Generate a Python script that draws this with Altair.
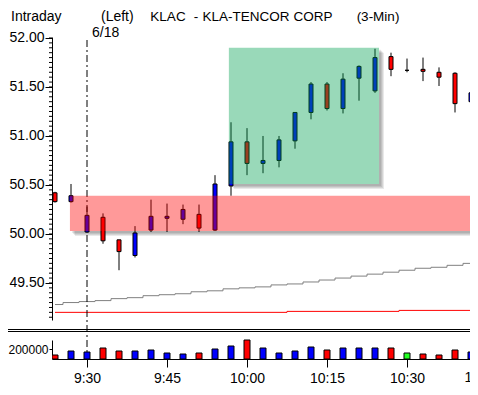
import altair as alt
import pandas as pd

# ---------------- data ----------------
bar_times = ["9:24", "9:27", "9:30", "9:33", "9:36", "9:39", "9:42", "9:45", "9:48", "9:51", "9:54", "9:57",
             "10:00", "10:03", "10:06", "10:09", "10:12", "10:15", "10:18", "10:21", "10:24", "10:27",
             "10:30", "10:33", "10:36", "10:39", "10:42"]
opens = [50.42, 50.33, 50.02, 50.17, 49.94, 49.78, 50.04, 50.16, 50.15, 50.20, 50.04, 50.49,
         50.94, 50.72, 50.75, 50.95, 51.24, 51.53, 51.28, 51.59, 51.46, 51.81,
         51.67, 51.68, 51.65, 51.64, 51.35]
highs = [50.43, 50.51, 50.28, 50.21, 49.94, 50.08, 50.35, 50.31, 50.30, 50.30, 50.60, 51.14,
         51.08, 51.00, 51.00, 51.24, 51.55, 51.55, 51.64, 51.72, 51.89, 51.85,
         51.79, 51.80, 51.70, 51.65, 51.44]
lows = [50.32, 50.32, 50.01, 49.90, 49.63, 49.76, 50.02, 50.02, 50.10, 50.02, 50.03, 50.39,
        50.60, 50.62, 50.68, 50.87, 51.17, 51.26, 51.23, 51.36, 51.44, 51.61,
        51.65, 51.56, 51.51, 51.24, 51.35]
closes = [50.33, 50.39, 50.19, 49.93, 49.82, 50.01, 50.18, 50.18, 50.25, 50.06, 50.51, 50.94,
          50.72, 50.75, 50.96, 51.24, 51.53, 51.28, 51.58, 51.71, 51.80, 51.68,
          51.67, 51.66, 51.60, 51.33, 51.44]
volumes = [80000, 160000, 140000, 220000, 160000, 160000, 180000, 120000, 100000, 120000, 200000, 260000,
           380000, 220000, 120000, 160000, 240000, 180000, 220000, 220000, 220000, 220000,
           120000, 100000, 80000, 180000, 140000]
avg_gray = [49.28, 49.30, 49.31, 49.32, 49.34, 49.35, 49.37, 49.38, 49.39, 49.41, 49.42, 49.44,
            49.45, 49.46, 49.48, 49.49, 49.51, 49.53, 49.55, 49.57, 49.59, 49.61,
            49.63, 49.65, 49.66, 49.68, 49.70]
avg_red = [49.20, 49.20, 49.20, 49.20, 49.20, 49.20, 49.20, 49.20, 49.20, 49.20, 49.20, 49.20,
           49.20, 49.20, 49.20, 49.21, 49.21, 49.21, 49.21, 49.21, 49.21, 49.21,
           49.22, 49.22, 49.22, 49.22, 49.22]

band_names = ["green", "red"]
band_start = ["9:56:36", "9:26:48"]
band_end = ["10:24:45", "10:44:00"]
band_top = [51.90, 50.39]
band_bottom = [50.51, 50.03]

time_tick_labels = ["9:30", "9:45", "10:00", "10:15", "10:30"]
cut_tick_label = "10:45"
price_tick_labels = [49.5, 50.0, 50.5, 51.0, 51.5, 52.0]
volume_tick_labels = [200000]
date_sep_time = "9:30"
date_text = "6/18"
header_words = ["Intraday", "(Left)", "KLAC", "-", "KLA-TENCOR", "CORP", "(3-Min)"]


def mins(s):
    p = s.split(":")
    return int(p[0]) * 60 + int(p[1]) + (float(p[2]) if len(p) > 2 else 0.0) / 60.0


X_DOMAIN = [mins("9:23:26.25"), mins("10:41:48.75")]
W, H = 418, 322
P_DOMAIN = [49.122, 52.01]
P_RANGE = [283, 0]

LBL_FONT = "Liberation Sans, Arial, sans-serif"
HDR_FONT = "Liberation Sans, Arial, sans-serif"
LBL_SIZE = 14

df = pd.DataFrame({"t": [mins(s) for s in bar_times], "open": opens, "high": highs,
                   "low": lows, "close": closes, "vol": volumes,
                   "gray": avg_gray, "red": avg_red})
df["dir"] = ["up" if c > o else ("down" if c < o else "flat") for o, c in zip(opens, closes)]
df["bodycol"] = df["dir"].map({"up": "#0000ff", "down": "#ff0000", "flat": "#000000"})
df["volcol"] = df["dir"].map({"up": "#0000ff", "down": "#ff0000", "flat": "#22ff22"})

bands = pd.DataFrame({"name": band_names, "t0": [mins(s) for s in band_start],
                      "t1": [mins(s) for s in band_end], "top": band_top, "bot": band_bottom})
bands["col"] = bands["name"].map({"green": "#00a050", "red": "#ff0000"})

minor = pd.DataFrame({"v": [round(49.15 + 0.05 * i, 2) for i in range(58)]})

label_expr = ("floor(datum.value/60) + ':' + (datum.value%60 < 10 ? '0' : '') + (datum.value%60)")
xaxis = alt.Axis(values=[mins(s) for s in time_tick_labels], labelExpr=label_expr, grid=False,
                 tickSize=8, labelPadding=4, domainColor="black", tickColor="black",
                 labelColor="black", labelFont=LBL_FONT, labelFontSize=LBL_SIZE, title=None)
xscale = alt.Scale(domain=X_DOMAIN, nice=False, zero=False, padding=0)


def X(field="t"):
    return alt.X(f"{field}:Q", scale=xscale, axis=xaxis, title=None)


yscale = alt.Scale(domain=P_DOMAIN, range=P_RANGE, nice=False, zero=False, padding=0)
yaxis = alt.Axis(values=price_tick_labels, format=".2f", grid=False, tickSize=7, labelPadding=1,
                 domainColor="black", tickColor="black", labelColor="black",
                 labelFont=LBL_FONT, labelFontSize=LBL_SIZE, title=None)


def Y(field):
    return alt.Y(f"{field}:Q", scale=yscale, axis=yaxis, title=None)


layers = []
# soft shadows of the two highlight boxes
for d in [2, 3, 4, 5]:
    layers.append(alt.Chart(bands).mark_rect(color="black", opacity=0.085, xOffset=d, x2Offset=d,
                                             yOffset=d, y2Offset=d, clip=False)
                  .encode(x=X("t0"), x2="t1", y=Y("top"), y2="bot"))
layers.append(alt.Chart(bands).mark_rect(color="white", clip=False)
              .encode(x=X("t0"), x2="t1", y=Y("top"), y2="bot"))
# minor ticks on price axis
layers.append(alt.Chart(minor).mark_rule(color="black", clip=False)
              .encode(y=Y("v"), x=alt.value(-3), x2=alt.value(0)))
# averages
layers.append(alt.Chart(df).mark_line(color="#808080", strokeWidth=1, interpolate="step", clip=True)
              .encode(x=X(), y=Y("gray")))
layers.append(alt.Chart(df).mark_line(color="#ff0000", strokeWidth=1, interpolate="step", clip=True)
              .encode(x=X(), y=Y("red")))
# date separator
sep = pd.DataFrame({"t": [mins(date_sep_time)], "txt": [date_text]})
layers.append(alt.Chart(sep).mark_rule(color="black", strokeDash=[7, 3, 2, 3], clip=False)
              .encode(x=X(), y=alt.value(3), y2=alt.value(H)))
layers.append(alt.Chart(sep).mark_text(align="left", baseline="alphabetic", dx=5, font=LBL_FONT,
                                       fontSize=LBL_SIZE, color="black", clip=False)
              .encode(x=X(), y=alt.value(-0.3), text="txt:N"))
# candles
layers.append(alt.Chart(df).mark_rule(color="black", clip=True)
              .encode(x=X(), y=Y("low"), y2="high"))
layers.append(alt.Chart(df).mark_bar(size=4, stroke="black", strokeWidth=1, clip=True)
              .encode(x=X(), y=Y("open"), y2="close", fill=alt.Fill("bodycol:N", scale=None)))
# translucent highlight boxes
layers.append(alt.Chart(bands).mark_rect(opacity=0.4, clip=False)
              .encode(x=X("t0"), x2="t1", y=Y("top"), y2="bot", fill=alt.Fill("col:N", scale=None)))
# panel separator (double line)
for yy in [292.5, 294.5]:
    layers.append(alt.Chart(sep).mark_rule(color="black", strokeWidth=1, clip=False)
                  .encode(x=alt.value(-44), x2=alt.value(430), y=alt.value(yy)))
# header words, each at its place in the reference
header_pos = [(-41, "left", 14), (49, "left", 14), (116, "center", 13.5), (144, "center", 13.5),
              (194, "center", 13.5), (261, "center", 13.5), (326, "center", 13.5)]
for txt, (xx, al, fs) in zip(header_words, header_pos):
    layers.append(alt.Chart(pd.DataFrame({"s": [txt]})).mark_text(
        align=al, baseline="alphabetic", font=HDR_FONT, fontSize=fs, color="black", clip=False)
        .encode(x=alt.value(xx), y=alt.value(-16.2), text="s:N"))
# cut-off time label at the right edge (only its first digit shows, as in the reference)
cut = pd.DataFrame({"t": [mins(cut_tick_label)], "s": [cut_tick_label]})
layers.append(alt.Chart(cut).mark_text(align="center", baseline="top", dx=-5, font=LBL_FONT,
                                       fontSize=LBL_SIZE, color="black", clip=False)
              .encode(x=X(), y=alt.value(H + 8 + 4), text="s:N"))

price = alt.layer(*layers)

vol = alt.Chart(df).mark_bar(size=6, stroke="black", strokeWidth=1, clip=True).encode(
    x=X(),
    y=alt.Y("vol:Q", scale=alt.Scale(domain=[0, 380000], range=[H, H - 19], nice=False, zero=True,
                                     padding=0),
            axis=alt.Axis(orient="left", values=volume_tick_labels, format="d", grid=False, tickSize=3,
                          labelPadding=1, domainColor="black", tickColor="black", labelColor="black",
                          labelFont=LBL_FONT, labelFontSize=12, title=None),
            title=None),
    fill=alt.Fill("volcol:N", scale=None),
)

chart = alt.layer(price, vol).resolve_scale(y="independent").properties(
    width=W, height=H,
    autosize=alt.AutoSizeParams(type="none"),
    padding={"left": 44, "top": 29, "right": 0, "bottom": 28},
    background="white",
).configure_view(stroke=None)

chart.save("out.html", embed_options={"renderer": "svg", "actions": False})
